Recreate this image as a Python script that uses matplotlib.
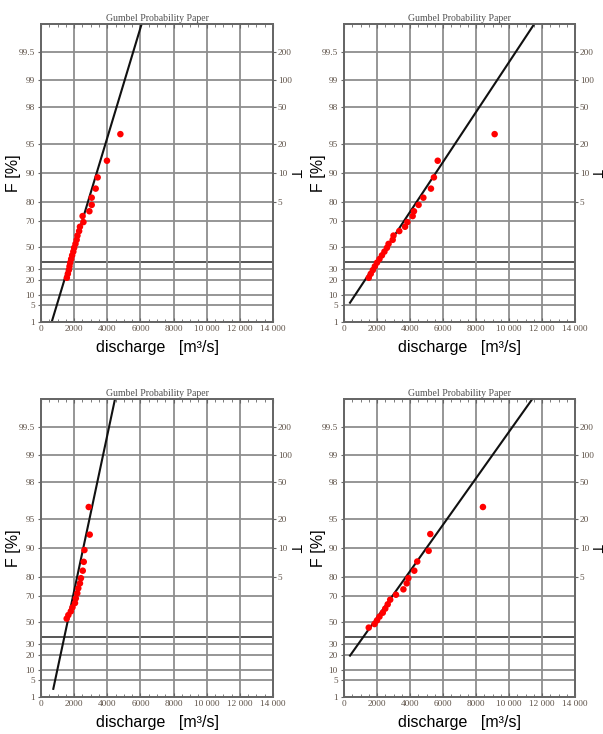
import numpy as np
import matplotlib
matplotlib.use("Agg")
import matplotlib.pyplot as plt
from matplotlib.ticker import FixedLocator, MultipleLocator

# ---------------- data ----------------
f_ticks = [1, 5, 10, 20, 30, 50, 70, 80, 90, 95, 98, 99, 99.5]
f_tick_labels = ["1", "5", "10", "20", "30", "50", "70", "80", "90", "95", "98", "99", "99.5"]
t_ticks = [5, 10, 20, 50, 100, 200]
t_tick_labels = ["5", "10", "20", "50", "100", "200"]
x_ticks = [0, 2000, 4000, 6000, 8000, 10000, 12000, 14000]
x_tick_labels = ["0", "2000", "4000", "6000", "8000", "10 000", "12 000", "14 000"]

# panel 1 (top left)
p1_F = [96.1, 92.5, 88.8, 85.4, 82.0, 78.8, 75.6, 72.9, 69.2, 66.1, 63.0, 59.6,
        56.2, 52.8, 49.4, 46.0, 42.6, 39.2, 35.8, 32.4, 29.0, 25.6, 22.2]
p1_Q = [4790, 3980, 3420, 3300, 3060, 3060, 2920, 2510, 2560, 2350, 2300, 2200,
        2150, 2080, 2000, 1950, 1880, 1820, 1760, 1720, 1680, 1620, 1560]
# panel 2 (top right)
p2_F = [96.1, 92.5, 88.8, 85.4, 82.0, 78.8, 75.6, 72.9, 69.2, 66.1, 63.0, 59.6,
        56.2, 52.8, 49.4, 46.0, 42.6, 39.2, 35.8, 32.4, 29.0, 25.6, 22.2]
p2_Q = [9130, 5680, 5450, 5270, 4810, 4520, 4240, 4160, 3840, 3700, 3350, 3000,
        2950, 2700, 2600, 2450, 2300, 2150, 2000, 1870, 1750, 1620, 1500]
# panel 3 (bottom left)
p3_F = [96.3, 92.7, 89.4, 86.0, 82.8, 79.6, 77.1, 74.5, 71.6, 68.4, 65.2, 62.1,
        59.0, 56.0, 53.0]
p3_Q = [2880, 2940, 2620, 2580, 2520, 2410, 2350, 2250, 2190, 2100, 2050, 1900,
        1800, 1650, 1550]
# panel 4 (bottom right)
p4_F = [96.3, 92.8, 89.2, 86.1, 82.8, 79.6, 77.1, 73.9, 70.7, 67.5, 64.3, 61.1,
        57.9, 54.7, 51.5, 48.3, 45.1]
p4_Q = [8420, 5230, 5130, 4440, 4260, 3900, 3800, 3600, 3150, 2800, 2650, 2500,
        2350, 2150, 2000, 1850, 1500]

# fitted Gumbel lines: Q = loc + scale * y, drawn from q_start upward
fit_loc = [1745, 2010, 1413, 1184]
fit_scale = [720, 1584, 508, 1702]
fit_q_start = [645, 364, 742, 364]

panels_F = [p1_F, p2_F, p3_F, p4_F]
panels_Q = [p1_Q, p2_Q, p3_Q, p4_Q]


def gumbel(F):
    return -np.log(-np.log(np.asarray(F, dtype=float)))


# ---------------- figure ----------------
W, H = 603, 734
fig = plt.figure(figsize=(W / 100, H / 100), dpi=100)
fig.patch.set_facecolor("white")

# axes boxes in pixels: left, top, right, bottom
boxes = [(41, 24, 273, 322), (344, 24, 575, 322),
         (41, 399, 273, 697), (344, 399, 575, 697)]
f_label_x = [14, 318, 14, 318]
t_label_x = [295, 596, 295, 596]

tick_col = "#5e5248"
grid_col = "#8e8e8e"
spine_col = "#666666"
serif = ["Liberation Serif", "DejaVu Serif"]
sans = ["Liberation Sans", "DejaVu Sans"]

y_lo = gumbel(0.01)
y_hi = 6.01

for i, (l, t, r, b) in enumerate(boxes):
    ax = fig.add_axes([l / W, 1 - b / H, (r - l) / W, (b - t) / H])
    ax.set_xlim(0, 14000)
    ax.set_ylim(y_lo, y_hi)

    # grid
    for fv in f_ticks:
        ax.axhline(gumbel(fv / 100), color=grid_col, lw=1.3, zorder=1)
    ax.axhline(0, color="#555555", lw=1.4, zorder=1)
    for xv in x_ticks[1:-1]:
        ax.axvline(xv, color=grid_col, lw=1.3, zorder=1)

    # ticks
    ax.xaxis.set_major_locator(FixedLocator(x_ticks))
    ax.set_xticklabels(x_tick_labels, fontfamily=serif, fontsize=6.7, color=tick_col)
    ax.xaxis.set_minor_locator(MultipleLocator(500))
    ax.tick_params(axis="x", which="major", direction="in", length=3, color=spine_col,
                   top=True, bottom=True, pad=2)
    ax.tick_params(axis="x", which="minor", direction="in", length=2, color=spine_col,
                   top=True, bottom=True)

    ax.yaxis.set_major_locator(FixedLocator(gumbel(np.array(f_ticks) / 100)))
    ax.set_yticklabels(f_tick_labels, fontfamily=serif, fontsize=6.7, color=tick_col)
    ax.tick_params(axis="y", direction="out", length=2.5, color=spine_col, pad=2)

    ax2 = ax.twinx()
    ax2.set_ylim(y_lo, y_hi)
    t_pos = gumbel(1 - 1 / np.array(t_ticks, dtype=float))
    ax2.yaxis.set_major_locator(FixedLocator(t_pos))
    ax2.set_yticklabels(t_tick_labels, fontfamily=serif, fontsize=6.7, color=tick_col)
    ax2.tick_params(axis="y", direction="out", length=2.5, color=spine_col, pad=1)

    for a in (ax, ax2):
        for s in a.spines.values():
            s.set_color(spine_col)
            s.set_linewidth(1.3)

    # fitted line
    q0 = fit_q_start[i]
    q1 = fit_loc[i] + fit_scale[i] * y_hi
    qq = np.array([q0, q1])
    ax.plot(qq, (qq - fit_loc[i]) / fit_scale[i], color="#111111", lw=1.5, zorder=3)

    # data points
    ax.scatter(panels_Q[i], gumbel(np.array(panels_F[i]) / 100), s=22, color="#ff0000",
               edgecolors="none", zorder=4)

    ax.set_title("Gumbel Probability Paper", fontfamily=serif, fontsize=7,
                 color="#505050", pad=2.5)
    ax.set_xlabel("discharge   [m\u00b3/s]", fontfamily=sans, fontsize=11.5, labelpad=5)

    yc = 1 - (t + b) / 2 / H
    fig.text(f_label_x[i] / W, yc, "F [%]", fontfamily=sans, fontsize=11.5,
             rotation=90, ha="center", va="center")
    fig.text(t_label_x[i] / W, yc, "T", fontfamily=sans, fontsize=10,
             rotation=270, ha="center", va="center")

fig.savefig("out.png", dpi=100, facecolor="white")
